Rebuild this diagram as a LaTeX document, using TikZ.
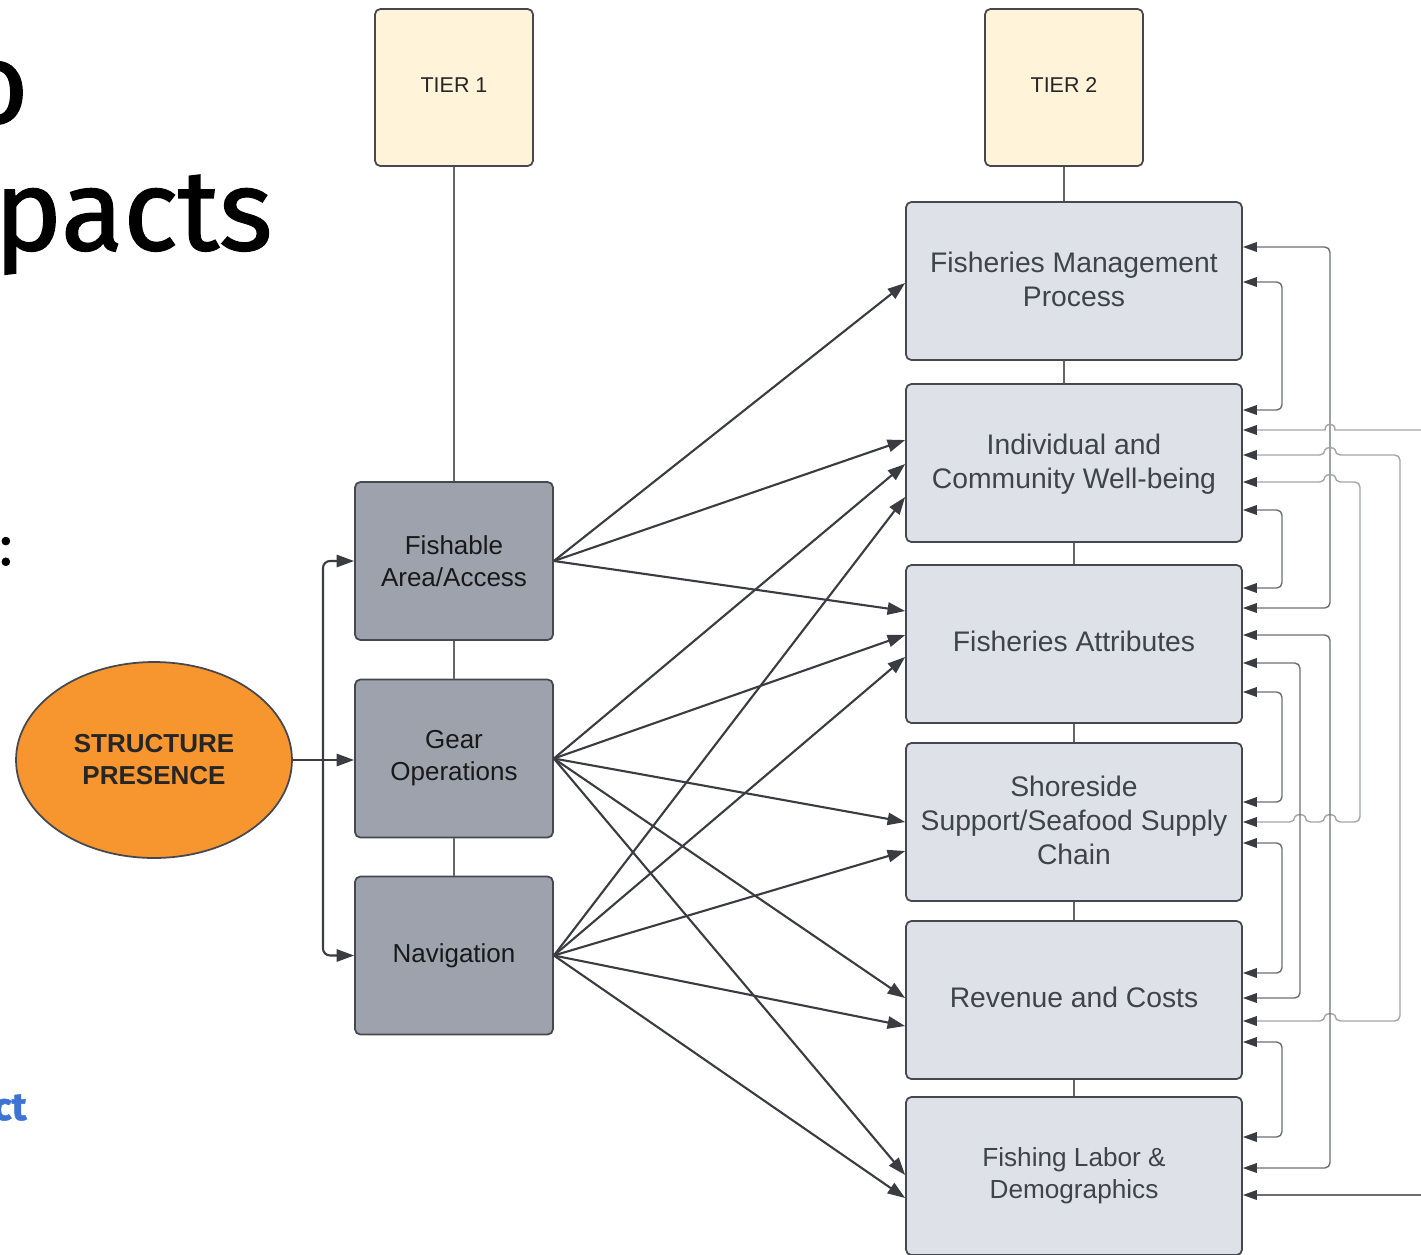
\documentclass[tikz,border=0pt]{standalone}
\usepackage{fontspec}
\setmainfont{Liberation Sans}
\newfontfamily\titlefont[FakeBold=1.3]{Fira Sans}
\usetikzlibrary{arrows.meta,shapes.geometric}
\definecolor{tierfill}{HTML}{FFF3D9}
\definecolor{effectfill}{HTML}{DEE1E7}
\definecolor{causefill}{HTML}{9DA2AC}
\definecolor{presfill}{HTML}{F7962F}
\definecolor{edgec}{HTML}{45484F}
\definecolor{arrowc}{HTML}{3A3C42}
\definecolor{fbdark}{HTML}{6C6E73}
\definecolor{fblight}{HTML}{A3A4A7}
\definecolor{effecttext}{HTML}{3F434A}
\definecolor{linkblue}{HTML}{3F73D3}
\begin{document}
\begin{tikzpicture}[x=0.02cm,y=-0.02cm]
	\tikzstyle{tier} = [draw=edgec, line width=1pt, fill=tierfill, rounded corners=3pt, minimum width=3.16cm, minimum height=3.14cm, text=black!85, font=\fontsize{12.2}{14}\selectfont]
	\tikzstyle{cause} = [draw=edgec, line width=1pt, fill=causefill, rounded corners=3pt, minimum width=3.96cm, minimum height=3.16cm, align=center, text=black!90, font=\fontsize{14.8}{18.2}\selectfont]
	\tikzstyle{effect} = [draw=edgec, line width=1pt, fill=effectfill, rounded corners=3pt, minimum width=6.72cm, minimum height=3.16cm, align=center, text=effecttext, font=\fontsize{16.1}{19.4}\selectfont]
	\tikzstyle{pres} = [draw=edgec, line width=1pt, fill=presfill, shape=ellipse, minimum width=5.52cm, minimum height=3.92cm, align=center, text=black!85, font=\bfseries\fontsize{14.8}{18.2}\selectfont]
	\tikzstyle{link} = [draw=black!60, line width=0.9pt]
	\tikzstyle{arr} = [draw=arrowc, line width=1.2pt, -{Triangle[length=10pt,width=7pt]}]
	\tikzstyle{fb} = [draw=fbdark, line width=0.8pt, rounded corners=3pt, {Triangle[length=8pt,width=5.5pt,color=arrowc]}-{Triangle[length=8pt,width=5.5pt,color=arrowc]}]
	\tikzstyle{fbl} = [fb, draw=fblight]
	\tikzstyle{fbin} = [draw=fbdark, line width=0.8pt, -{Triangle[length=8pt,width=5.5pt,color=arrowc]}]
	\useasboundingbox (0,0) rectangle (1421,1255);
	\clip (0,0) rectangle (1421,1255);
	% slide text cut off at the left
	\node[anchor=base east, inner sep=0, font=\titlefont\fontsize{65}{70}\selectfont] (ttlo) at (29,123) {o};
	\node[anchor=base west, inner sep=0, font=\titlefont\fontsize{65}{70}\selectfont] (ttlpacts) at (-6,250) {pacts};
	\node[anchor=base east, inner sep=0, font=\titlefont\fontsize{32}{36}\selectfont] (colon) at (13,565) {:};
	\node[anchor=base east, inner sep=0, text=linkblue, font=\titlefont\bfseries\fontsize{22}{26}\selectfont] (ct) at (27,1120) {ct};
	% tiers
	\node[tier] (tier1) at (454,87.5) {\raisebox{3pt}{TIER 1}};
	\node[tier] (tier2) at (1064,87.5) {\raisebox{3pt}{TIER 2}};
	% tier 1
	\node[pres] (pres) at (154,760) {STRUCTURE\\PRESENCE};
	\node[cause] (fish) at (454,561) {Fishable\\Area/Access};
	\node[cause] (gear) at (454,758.5) {Gear\\Operations};
	\node[cause] (nav) at (454,955.5) {Navigation};
	% tier 2
	\node[effect, text depth=0.2em] (fmp) at (1074,281) {Fisheries Management\\Process};
	\node[effect, text depth=0.2em] (icw) at (1074,463) {Individual and\\Community Well-being};
	\node[effect] (fa) at (1074,644) {\raisebox{3pt}{Fisheries Attributes}};
	\node[effect, text depth=0.2em] (ss) at (1074,822) {Shoreside\\Support/Seafood Supply\\Chain};
	\node[effect] (rc) at (1074,1000) {\raisebox{3pt}{Revenue and Costs}};
	\node[effect, font=\fontsize{14.9}{18.2}\selectfont] (fld) at (1074,1176) {Fishing Labor \&\\Demographics};
	% tier lines
	\draw[link] (tier1) -- (fish);
	\draw[link] (fish) -- (gear);
	\draw[link] (gear) -- (nav);
	\draw[link] (tier2.south) -- (tier2.south |- fmp.north);
	\draw[link] (tier2.south |- fmp.south) -- (tier2.south |- icw.north);
	\draw[link] (icw) -- (fa);
	\draw[link] (fa) -- (ss);
	\draw[link] (ss) -- (rc);
	\draw[link] (rc) -- (fld);
	% structure presence
	\coordinate (split) at (323,760);
	\draw[arr] (pres.east) -- (pres.east -| gear.west);
	\draw[arr, rounded corners=4pt] (split) |- (fish.west);
	\draw[arr, rounded corners=4pt] (split) |- (nav.west);
	% tier 1 -> tier 2
	\draw[arr] (fish.east) -- (fmp.west |- 0,283);
	\draw[arr] (fish.east) -- (icw.west |- 0,440);
	\draw[arr] (fish.east) -- (fa.west |- 0,611);
	\draw[arr] (gear.east) -- (icw.west |- 0,464);
	\draw[arr] (gear.east) -- (fa.west |- 0,635);
	\draw[arr] (gear.east) -- (ss.west |- 0,822);
	\draw[arr] (gear.east) -- (rc.west |- 0,998);
	\draw[arr] (gear.east) -- (fld.west |- 0,1175);
	\draw[arr] (nav.east) -- (icw.west |- 0,497);
	\draw[arr] (nav.east) -- (fa.west |- 0,657);
	\draw[arr] (nav.east) -- (ss.west |- 0,851);
	\draw[arr] (nav.east) -- (rc.west |- 0,1026);
	\draw[arr] (nav.east) -- (fld.west |- 0,1198);
	% feedback between tier 2 boxes
	\coordinate (inicw) at (1421,430);
	\coordinate (infld) at (1421,1195);
	\draw[fb] (fmp.east |- 0,247) -- (1330,247) -- (1330,608) -- (fa.east |- 0,608);
	\draw[fb] (fmp.east |- 0,282) -- (1282,282) -- (1282,410) -- (icw.east |- 0,410);
	\draw[fbin, draw=fblight] (inicw) -- (1335,430) .. controls (1335,422) and (1325,422) .. (1325,430) -- (icw.east |- 0,430);
	\draw[fbl] (icw.east |- 0,455) -- (1325,455) .. controls (1325,447) and (1335,447) .. (1335,455) -- (1400,455) -- (1400,1021) -- (1335,1021) .. controls (1335,1013) and (1325,1013) .. (1325,1021) -- (rc.east |- 0,1021);
	\draw[fbl] (icw.east |- 0,482) -- (1325,482) .. controls (1325,474) and (1335,474) .. (1335,482) -- (1360,482) -- (1360,822) -- (1335,822) .. controls (1335,814) and (1325,814) .. (1325,822) -- (1305,822) .. controls (1305,814) and (1295,814) .. (1295,822) -- (ss.east |- 0,822);
	\draw[fb] (icw.east |- 0,510) -- (1282,510) -- (1282,588) -- (fa.east |- 0,588);
	\draw[fb] (fa.east |- 0,635) -- (1330,635) -- (1330,1168) -- (fld.east |- 0,1168);
	\draw[fb] (fa.east |- 0,663) -- (1300,663) -- (1300,998) -- (rc.east |- 0,998);
	\draw[fb] (fa.east |- 0,692) -- (1282,692) -- (1282,802) -- (ss.east |- 0,802);
	\draw[fb] (ss.east |- 0,843) -- (1282,843) -- (1282,973) -- (rc.east |- 0,973);
	\draw[fb] (rc.east |- 0,1042) -- (1282,1042) -- (1282,1137) -- (fld.east |- 0,1137);
	\draw[fbin] (infld) -- (fld.east |- 0,1195);
\end{tikzpicture}
\end{document}
